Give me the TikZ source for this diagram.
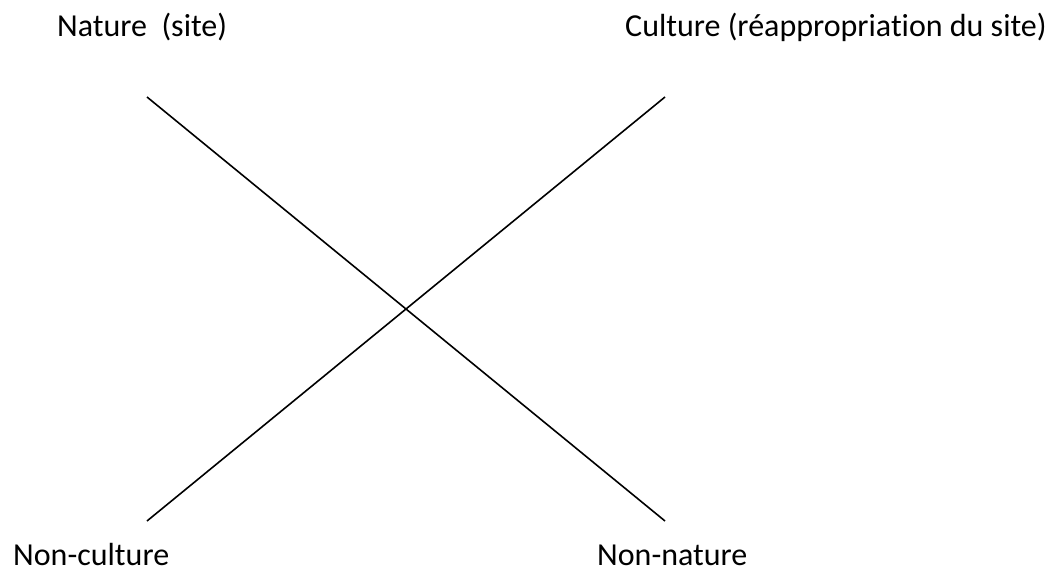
\documentclass[tikz,border=0pt]{standalone}
\usepackage{fontspec}
\setmainfont[Ligatures=NoCommon]{Carlito}
\begin{document}
\begin{tikzpicture}[x=1pt,y=-1pt,
    term/.style={anchor=base west,inner sep=0pt,font=\fontsize{32}{36}\selectfont}]
      \useasboundingbox (0,0) rectangle (1051,567);
      \draw
        (57,37) node[term] (nature){Nature\ \ (site)}
        (625,37) node[term] (culture){Culture (réappropriation du site)}
        (13,565) node[term] (nonculture){Non-culture}
        (597,565) node[term] (nonnature){Non-nature};
      \coordinate (tl) at (147,97);
      \coordinate (tr) at (665,97);
      \coordinate (bl) at (147,521);
      \coordinate (br) at (665,521);
      \begin{scope}[-,line width=1.6pt]
        \draw (tl) to (br);
        \draw (tr) to (bl);
      \end{scope}
    \end{tikzpicture}
\end{document}
